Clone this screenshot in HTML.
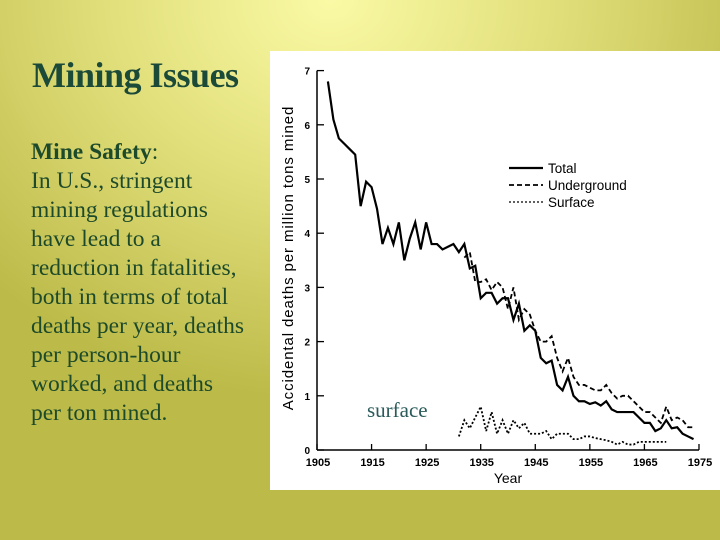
<!DOCTYPE html>
<html><head><meta charset="utf-8"><style>
body{margin:0;width:720px;height:540px;overflow:hidden;position:relative;
background:radial-gradient(ellipse 480px 400px at 330px 0px,#fafaa6 0%,#e2e07c 45%,#bcba48 100%);
font-family:"Liberation Serif",serif}
#title{position:absolute;left:32px;top:54px;font-size:36px;color:#1c4a38;font-weight:bold;letter-spacing:-0.5px}
#body{position:absolute;left:31px;top:138px;font-size:23.5px;line-height:29px;color:#1d4a2a;width:250px;white-space:nowrap}
svg{position:absolute;left:0;top:0}
</style></head><body>
<div id="title">Mining Issues</div>
<div id="body"><b>Mine Safety</b>:<br>In U.S., stringent<br>mining regulations<br>have lead to a<br>reduction in fatalities,<br>both in terms of total<br>deaths per year, deaths<br>per person-hour<br>worked, and deaths<br>per ton mined.</div>
<svg width="720" height="540">
<rect x="270" y="51" width="450" height="439" fill="#fff"/>
<g id="axes" font-family="Liberation Sans,sans-serif"></g>
<g id="plot"></g>
<text x="367" y="417" font-family="Liberation Serif,serif" font-size="21" fill="#2a5a5a">surface</text>
</svg>
<script>
const years0=[1907,1908,1909,1910,1911,1912,1913,1914,1915,1916,1917,1918,1919,1920,1921,1922,1923,1924,1925,1926,1927,1928,1929,1930,1931,1932,1933,1934,1935,1936,1937,1938,1939,1940,1941,1942,1943,1944,1945,1946,1947,1948,1949,1950,1951,1952,1953,1954,1955,1956,1957,1958,1959,1960,1961,1962,1963,1964,1965,1966,1967,1968,1969,1970,1971,1972,1973,1974];
const total=[6.8,6.1,5.75,5.65,5.55,5.45,4.5,4.95,4.85,4.45,3.8,4.1,3.8,4.2,3.5,3.9,4.2,3.7,4.2,3.8,3.8,3.7,3.75,3.8,3.65,3.8,3.35,3.4,2.8,2.9,2.9,2.7,2.8,2.8,2.4,2.7,2.2,2.3,2.2,1.7,1.6,1.65,1.2,1.1,1.35,1.0,0.9,0.9,0.85,0.88,0.82,0.9,0.75,0.7,0.7,0.7,0.7,0.6,0.5,0.5,0.35,0.4,0.55,0.4,0.42,0.3,0.25,0.2];
const yearsU=[1932,1933,1934,1935,1936,1937,1938,1939,1940,1941,1942,1943,1944,1945,1946,1947,1948,1949,1950,1951,1952,1953,1954,1955,1956,1957,1958,1959,1960,1961,1962,1963,1964,1965,1966,1967,1968,1969,1970,1971,1972,1973,1974];
const underground=[3.55,3.65,3.1,3.1,3.15,2.95,3.1,3.0,2.6,3.0,2.4,2.6,2.5,2.2,2.0,2.0,2.1,1.7,1.45,1.7,1.35,1.2,1.2,1.15,1.1,1.1,1.2,1.05,0.95,1.0,1.0,0.9,0.8,0.7,0.7,0.6,0.5,0.8,0.55,0.6,0.55,0.42,0.42];
const yearsS=[1931,1932,1933,1934,1935,1936,1937,1938,1939,1940,1941,1942,1943,1944,1945,1946,1947,1948,1949,1950,1951,1952,1953,1954,1955,1956,1957,1958,1959,1960,1961,1962,1963,1964,1965,1966,1967,1968,1969];
const surface=[0.25,0.55,0.4,0.6,0.8,0.35,0.7,0.3,0.55,0.3,0.55,0.4,0.5,0.3,0.3,0.3,0.35,0.2,0.3,0.3,0.3,0.2,0.2,0.25,0.25,0.22,0.2,0.18,0.15,0.1,0.15,0.1,0.1,0.15,0.15,0.15,0.15,0.15,0.15];
const yTicks=[0,1,2,3,4,5,6,7];
const xTicks=[1905,1915,1925,1935,1945,1955,1965,1975];
const X=y=>317+(y-1905)*5.457, Y=v=>450-v*54.2;
const NS='http://www.w3.org/2000/svg';
function mk(t,a,p){const e=document.createElementNS(NS,t);for(const k in a)e.setAttribute(k,a[k]);p.appendChild(e);return e;}
const ax=document.getElementById('axes'), pl=document.getElementById('plot');
const yl=mk('line',{x1:317,y1:Y(7),x2:317,y2:450,stroke:'#000','stroke-width':1.5},ax);


const xl=mk('line',{x1:317,y1:450,x2:X(1975),y2:450,stroke:'#000','stroke-width':1.5},ax);


yTicks.forEach(v=>{
 mk('line',{x1:317,y1:Y(v),x2:324,y2:Y(v),stroke:'#000','stroke-width':1.3},ax);
 const t=mk('text',{x:310,y:Y(v)+4,'font-size':10,'font-weight':'bold','text-anchor':'end'},ax);t.textContent=v;
 
 
});
xTicks.forEach(v=>{
 mk('line',{x1:X(v),y1:450,x2:X(v),y2:444,stroke:'#000','stroke-width':1.3},ax);
 const t=mk('text',{x:X(v)+1,y:466,'font-size':11,'font-weight':'bold','text-anchor':'middle'},ax);t.textContent=v;
 
 
});
const xt=mk('text',{x:508,y:483,'font-size':14,'text-anchor':'middle'},ax);xt.textContent='Year';


const yt=mk('text',{x:0,y:0,'font-size':15,'letter-spacing':'0.9','text-anchor':'middle',transform:'translate(293,258) rotate(-90)'},ax);yt.textContent='Accidental deaths per million tons mined';


function line(xs,vs,dash,w,name){
 const p=mk('polyline',{points:xs.map((y,i)=>X(y)+','+Y(vs[i])).join(' '),fill:'none',stroke:'#000','stroke-width':w,'stroke-dasharray':dash},pl);
 
 
}
line(years0,total,'none',2.2,'total-line');
line(yearsU,underground,'5,3',1.8,'underground-line');
line(yearsS,surface,'2,2',1.8,'surface-line');
const leg=[['Total','none',2.2],['Underground','5,3',1.8],['Surface','2,2',1.3]];
leg.forEach((l,i)=>{
 const yy=168+i*17;
 mk('line',{x1:509,y1:yy,x2:543,y2:yy,stroke:'#000','stroke-width':l[2],'stroke-dasharray':l[1]},ax);
 const t=mk('text',{x:548,y:yy+5,'font-size':13.5},ax);t.textContent=l[0];
 
 
});
</script>
</body></html>
